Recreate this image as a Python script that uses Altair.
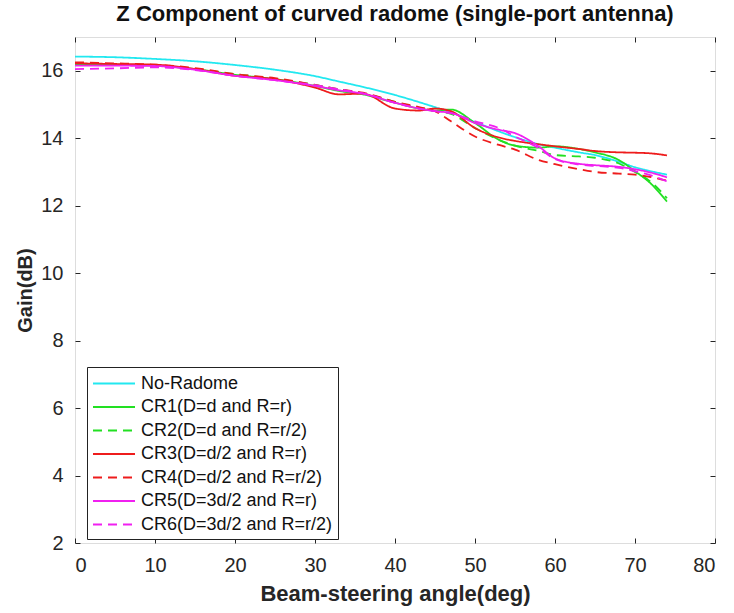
import altair as alt
import pandas as pd

angles = [0, 5, 10, 15, 20, 25, 30, 33, 36, 40, 43, 45, 47, 50, 53, 55, 58, 60, 63, 65, 68, 70, 72, 74]

no_radome = [16.42, 16.40, 16.35, 16.28, 16.17, 16.03, 15.84, 15.68, 15.52, 15.28, 15.07, 14.92, 14.77, 14.48, 14.20, 14.03, 13.82, 13.72, 13.58, 13.50, 13.30, 13.14, 13.02, 12.92]
cr1 = [16.20, 16.18, 16.15, 16.05, 15.88, 15.75, 15.55, 15.40, 15.30, 15.05, 14.88, 14.82, 14.85, 14.45, 13.95, 13.78, 13.72, 13.76, 13.68, 13.58, 13.35, 13.02, 12.65, 12.12]
cr2 = [16.18, 16.17, 16.14, 16.05, 15.90, 15.76, 15.58, 15.45, 15.33, 15.08, 14.90, 14.80, 14.72, 14.30, 13.95, 13.78, 13.62, 13.50, 13.46, 13.42, 13.25, 13.00, 12.70, 12.22]
cr3 = [16.22, 16.20, 16.18, 16.05, 15.85, 15.75, 15.50, 15.30, 15.32, 14.88, 14.82, 14.88, 14.80, 14.30, 14.02, 13.92, 13.82, 13.76, 13.68, 13.62, 13.58, 13.57, 13.55, 13.49]
cr4 = [16.25, 16.22, 16.18, 16.08, 15.90, 15.78, 15.58, 15.45, 15.35, 15.08, 14.92, 14.80, 14.50, 14.05, 13.80, 13.66, 13.35, 13.23, 13.08, 13.00, 12.95, 12.92, 12.85, 12.74]
cr5 = [16.15, 16.15, 16.14, 16.03, 15.85, 15.72, 15.55, 15.42, 15.32, 15.05, 14.88, 14.80, 14.75, 14.45, 14.25, 14.15, 13.75, 13.40, 13.24, 13.20, 13.15, 13.08, 12.98, 12.84]
cr6 = [16.05, 16.07, 16.10, 16.02, 15.85, 15.72, 15.57, 15.45, 15.33, 15.05, 14.88, 14.80, 14.74, 14.50, 14.30, 14.05, 13.70, 13.38, 13.22, 13.18, 13.12, 13.02, 12.90, 12.72]

series_names = [
    "No-Radome",
    "CR1(D=d and R=r)",
    "CR2(D=d and R=r/2)",
    "CR3(D=d/2 and R=r)",
    "CR4(D=d/2 and R=r/2)",
    "CR5(D=3d/2 and R=r)",
    "CR6(D=3d/2 and R=r/2)",
]
series_values = [no_radome, cr1, cr2, cr3, cr4, cr5, cr6]
colors = ["#22e8f0", "#22e022", "#22e022", "#ee1c1c", "#ee1c1c", "#f020f0", "#f020f0"]
dashes = [[1, 0], [1, 0], [9, 6], [1, 0], [9, 6], [1, 0], [9, 6]]

x_ticks = list(range(0, 81, 10))
y_ticks = list(range(2, 17, 2))

rows = []
for name, vals in zip(series_names, series_values):
    for a, g in zip(angles, vals):
        rows.append({"angle": a, "gain": g, "series": name})
df = pd.DataFrame(rows)

FONT = "Liberation Sans"
TXT = "#262626"

legend = alt.Legend(
    title=None,
    orient="none",
    legendX=12,
    legendY=330,
    fillColor="white",
    strokeColor="#222222",
    padding=5,
    symbolType="M-1,0H3",
    symbolSize=441,
    symbolStrokeWidth=1.8,
    labelFont=FONT,
    labelFontSize=18,
    labelColor="#111111",
    rowPadding=2.5,
    labelOffset=26,
    labelLimit=400,
)

xs = alt.Scale(domain=[0, 80], nice=False)
ys = alt.Scale(domain=[2, 17], nice=False)

axis_style = dict(
    labelFont=FONT, labelFontSize=20, labelColor=TXT,
    titleFont=FONT, titleFontWeight="bold", titleColor=TXT,
    tickColor=TXT, gridColor="#e2e2e2", gridWidth=1,
)

lines = alt.Chart(df).mark_line(strokeWidth=1.8, interpolate="monotone").encode(
    x=alt.X("angle:Q", scale=xs, axis=alt.Axis(
        values=x_ticks, title="Beam-steering angle(deg)", orient="bottom",
        offset=-5, tickSize=5, labelPadding=12, domain=False,
        titlePadding=8, titleFontSize=22, **axis_style,
    )),
    y=alt.Y("gain:Q", scale=ys, axis=alt.Axis(
        values=y_ticks, title="Gain(dB)", orient="left",
        offset=-5, tickSize=5, labelPadding=12, domain=False,
        titlePadding=5, titleFontSize=20, **axis_style,
    )),
    color=alt.Color("series:N", scale=alt.Scale(domain=series_names, range=colors), legend=legend),
    strokeDash=alt.StrokeDash("series:N", scale=alt.Scale(domain=series_names, range=dashes), legend=legend),
)

frame = alt.Chart(df).mark_line(opacity=0).encode(
    x=alt.X("angle:Q", scale=xs, axis=alt.Axis(
        values=x_ticks, orient="top", labels=False, title=None, grid=False,
        offset=-5, tickSize=5, domain=False, tickColor=TXT,
    )),
    y=alt.Y("gain:Q", scale=ys, axis=alt.Axis(
        values=y_ticks, orient="right", labels=False, title=None, grid=False,
        offset=-5, tickSize=5, domain=False, tickColor=TXT,
    )),
    detail="series:N",
)

chart = alt.layer(frame, lines).resolve_axis(x="independent", y="independent").properties(
    width=640,
    height=506,
    title=alt.TitleParams(
        "Z Component of curved radome (single-port antenna)",
        font=FONT, fontSize=22, fontWeight="bold", color="#111111",
        anchor="middle", offset=11,
    ),
    autosize=alt.AutoSizeParams(type="none"),
    padding={"left": 75, "top": 37, "right": 19, "bottom": 70},
).configure_view(
    stroke="#222222", strokeWidth=1,
).configure(background="white")

chart.save("out.html", embed_options={"renderer": "svg", "actions": False})
